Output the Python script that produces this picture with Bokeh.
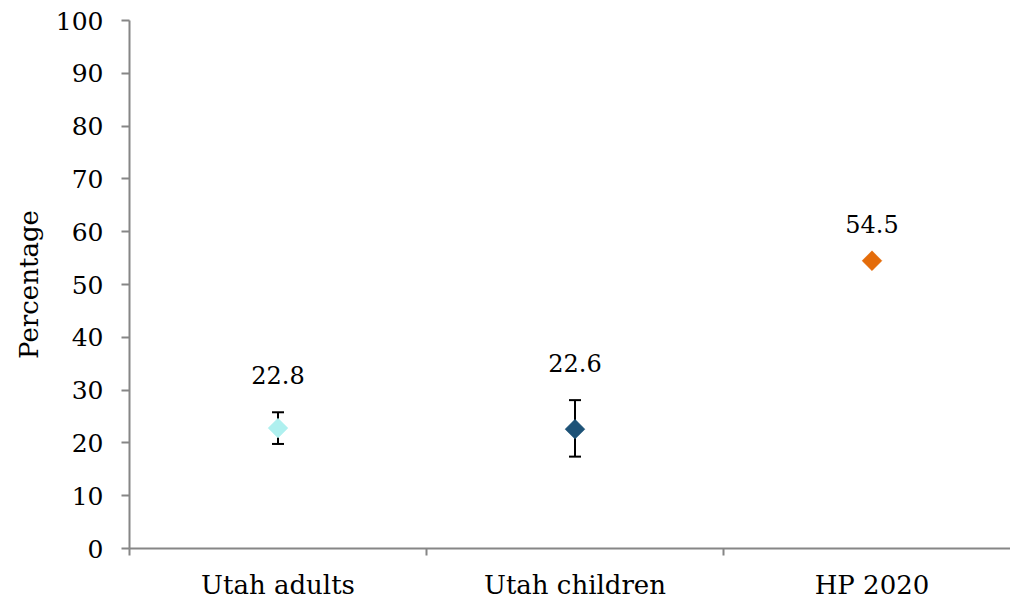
from bokeh.plotting import figure
from bokeh.models import (ColumnDataSource, Range1d, FixedTicker, Whisker,
                          TeeHead)
from bokeh.core.properties import value
from bokeh.embed import file_html
from bokeh.resources import INLINE

# Prevalence estimates with 95% confidence limits
categories = ["Utah adults", "Utah children", "HP 2020"]
values = [22.8, 22.6, 54.5]
lower_ci = [19.8, 17.4, None]
upper_ci = [25.8, 28.1, None]
y_ticks = [0, 10, 20, 30, 40, 50, 60, 70, 80, 90, 100]

marker_colors = ["#aff0ef", "#1d5277", "#e46c0a"]
axis_color = "#868686"
font = "DejaVu Serif"

xs = [i + 0.5 for i in range(len(categories))]
label_y = [u if u is not None else v for u, v in zip(upper_ci, values)]

points = ColumnDataSource(dict(
    x=xs, y=values, color=marker_colors,
    label=[f"{v:.1f}" for v in values], label_y=label_y,
))
ci_rows = [i for i, u in enumerate(upper_ci) if u is not None]
errors = ColumnDataSource(dict(
    x=[xs[i] for i in ci_rows],
    lower=[lower_ci[i] for i in ci_rows],
    upper=[upper_ci[i] for i in ci_rows],
))

p = figure(width=1010, height=602, output_backend="svg",
           toolbar_location=None, title=None,
           x_range=Range1d(0, 881 / 297), y_range=Range1d(0, 100),
           min_border_left=129, min_border_right=0,
           min_border_top=20, min_border_bottom=53)
p.outline_line_color = None
p.background_fill_color = "white"
p.border_fill_color = "white"
p.xgrid.visible = False
p.ygrid.visible = False

# Confidence interval bars
whisk = Whisker(source=errors, base="x", upper="upper", lower="lower",
                dimension="height", line_color="black", line_width=2,
                upper_head=TeeHead(size=12, line_width=2, line_color="black"),
                lower_head=TeeHead(size=12, line_width=2, line_color="black"))
p.add_layout(whisk)

p.scatter("x", "y", source=points, marker="square", size=14, angle=0.785398,
          fill_color="color", line_color="color", line_width=0.5)

p.text("x", "label_y", text="label", source=points, y_offset=-37,
       text_align="center", text_baseline="middle",
       text_font=value(font), text_font_size="24px", text_color="black")

# Category axis: labels at centers, tick marks at boundaries
p.xaxis.ticker = FixedTicker(ticks=xs,
                             minor_ticks=list(range(len(categories) + 1)))
p.xaxis.major_label_overrides = {x: c for x, c in zip(xs, categories)}
p.xaxis.major_tick_out = 0
p.xaxis.major_tick_in = 0
p.xaxis.minor_tick_out = 7
p.xaxis.minor_tick_in = 0
p.xaxis.minor_tick_line_width = 2
p.xaxis.minor_tick_line_color = axis_color
p.xaxis.major_label_standoff = 14
p.xaxis.major_label_text_font = font
p.xaxis.major_label_text_font_size = "26px"
p.xaxis.major_label_text_color = "black"

p.yaxis.ticker = FixedTicker(ticks=y_ticks)
p.yaxis.major_tick_out = 8
p.yaxis.major_tick_in = 0
p.yaxis.minor_tick_out = 0
p.yaxis.minor_tick_in = 0
p.yaxis.major_label_standoff = 18
p.yaxis.major_label_text_font = font
p.yaxis.major_label_text_font_size = "25px"
p.yaxis.major_label_text_color = "black"
p.yaxis.axis_label = "Percentage"
p.yaxis.axis_label_text_font = font
p.yaxis.axis_label_text_font_style = "normal"
p.yaxis.axis_label_text_font_size = "26px"
p.yaxis.axis_label_text_color = "black"
p.yaxis.axis_label_standoff = 9

for ax in (p.xaxis, p.yaxis):
    ax.axis_line_color = axis_color
    ax.axis_line_width = 2
    ax.major_tick_line_color = axis_color
    ax.major_tick_line_width = 2

open("out.html", "w").write(file_html(p, INLINE))
